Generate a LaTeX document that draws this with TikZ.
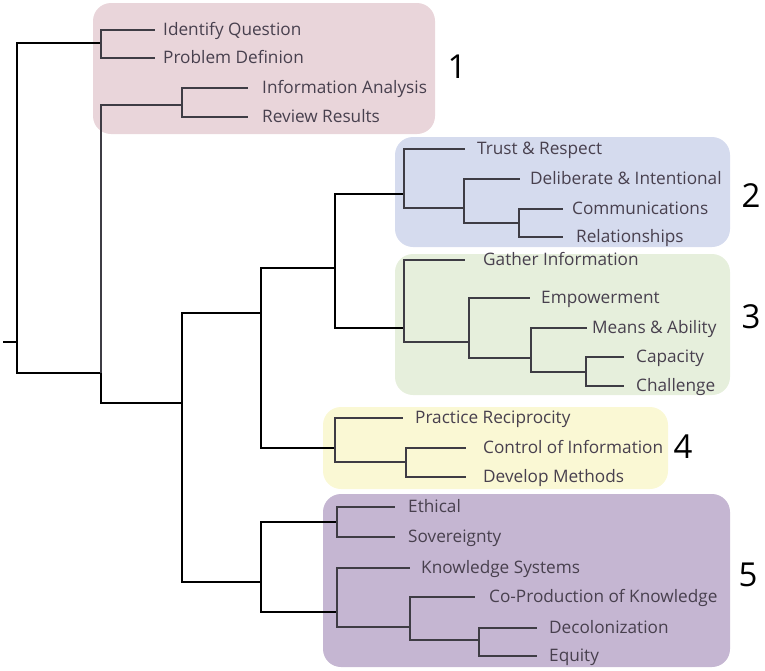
\documentclass[tikz,border=0pt]{standalone}
\usepackage{fontspec}
\setmainfont{Open Sans}
\usepackage{tikz}

\definecolor{boxpink}{RGB}{233,213,218}
\definecolor{boxblue}{RGB}{213,219,238}
\definecolor{boxgreen}{RGB}{230,239,220}
\definecolor{boxyellow}{RGB}{250,248,212}
\definecolor{boxpurple}{RGB}{197,182,210}
\definecolor{leafgray}{RGB}{72,64,78}
\definecolor{twiggray}{RGB}{62,60,68}

\begin{document}
\begin{tikzpicture}[x = 1pt, y = -1pt,
    trunk/.style = {draw = black, line width = 1.8pt},
    twig/.style = {draw = twiggray, line width = 1.3pt},
    group/.style = {rounded corners = 18pt},
    leaf/.style = {anchor = west, inner ysep = 0pt, text height = 10pt, text depth = 0pt,
                   text = leafgray, font = \fontsize{17.2}{20}\selectfont},
    tag/.style = {font = \fontsize{33}{38}\selectfont, inner sep = 0pt}]
  \useasboundingbox (0,0) rectangle (765,670);
  % cluster boxes
  \fill[boxpink, group] (93,3) rectangle (435,134);
  \fill[boxblue, group] (395,137) rectangle (730,247);
  \fill[boxgreen, group] (395,254) rectangle (730,395);
  \fill[boxyellow, group] (323,407) rectangle (668,489);
  \fill[boxpurple, group] (323,494) rectangle (730,667);
  \node[tag] (g1) at (457,67) {1};
  \node[tag] (g2) at (751,196) {2};
  \node[tag] (g3) at (751,317) {3};
  \node[tag] (g4) at (683,447) {4};
  \node[tag] (g5) at (748,575) {5};
  % joins
  \coordinate (stub) at (3,342);
  \coordinate (root) at (17,342);
  \coordinate (a) at (101,43);
  \coordinate (b) at (101,373);
  \coordinate (c) at (182,105);
  \coordinate (d) at (182,403);
  \coordinate (e) at (261,313);
  \coordinate (f) at (261,582);
  \coordinate (g) at (335,268);
  \coordinate (h2) at (404,194);
  \coordinate (h3) at (404,328);
  \coordinate (h4) at (335,448);
  \coordinate (i) at (464,208);
  \coordinate (j) at (519,223);
  \coordinate (k) at (469,342);
  \coordinate (l) at (531,358);
  \coordinate (m) at (586,372);
  \coordinate (n) at (406,462);
  \coordinate (p) at (337,522);
  \coordinate (q) at (337,612);
  \coordinate (s) at (410,627);
  \coordinate (t) at (479,640);
  % leaves
  \foreach \name/\x/\y/\gap/\label in {
      iq/155/30/8/Identify Question, pd/155/58/8/Problem Definion,
      ia/248/88/14/Information Analysis, rr/248/117/14/Review Results,
      tr/465/149/12/Trust \& Respect, di/520/179/10/Deliberate \& Intentional,
      co/563/209/9/Communications, re/563/237/13/Relationships,
      gi/465/260/18/Gather Information, em/530/298/11/Empowerment,
      ma/587/328/5/Means \& Ability, ca/624/357/12/Capacity, ch/624/386/12/Challenge,
      pr/403/418/12/Practice Reciprocity, ci/466/448/17/Control of Information,
      dm/466/477/17/Develop Methods,
      et/395/507/13/Ethical, so/395/537/13/Sovereignty,
      ks/410/568/11/Knowledge Systems, cp/475/597/14/Co-Production of Knowledge,
      dc/537/628/12/Decolonization, eq/537/656/12/Equity}
    \node[leaf, inner xsep = \gap pt] (\name) at (\x,\y) {\label};
  % tree
  \draw[trunk] (stub) -- (root);
  \foreach \from/\to in {root/a, root/b, b/d, d/e, d/f, e/g, e/h4, g/h2, g/h3, f/p, f/q}
    \draw[trunk] (\from) |- (\to);
  \foreach \from/\to in {a/iq, a/pd, b/c, c/ia, c/rr,
      h2/tr, h2/i, i/di, i/j, j/co, j/re,
      h3/gi, h3/k, k/em, k/l, l/ma, l/m, m/ca, m/ch,
      h4/pr, h4/n, n/ci, n/dm,
      p/et, p/so, q/ks, q/s, s/cp, s/t, t/dc, t/eq}
    \draw[twig] (\from) |- (\to);
\end{tikzpicture}
\end{document}
